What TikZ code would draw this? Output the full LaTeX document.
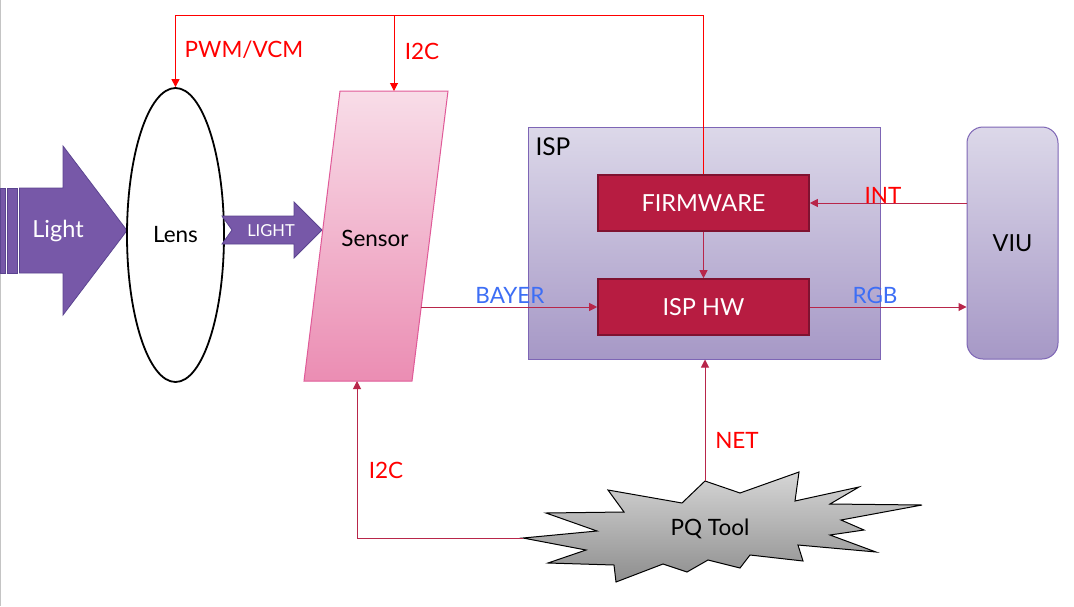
\documentclass[tikz,border=0pt]{standalone}
\usepackage{fontspec}
\setmainfont{Lato}
\usetikzlibrary{arrows.meta,shapes.geometric}
\definecolor{purplefill}{HTML}{7758A8}
\definecolor{purpledraw}{HTML}{5B4490}
\definecolor{crimson}{HTML}{B71C41}
\definecolor{crimsondraw}{HTML}{7F1230}
\definecolor{lavtop}{HTML}{DCD8E9}
\definecolor{lavbot}{HTML}{A698C6}
\definecolor{lavdraw}{HTML}{7D65B5}
\definecolor{pinktop}{HTML}{F8DDE8}
\definecolor{pinkbot}{HTML}{EB8DB3}
\definecolor{pinkdraw}{HTML}{E05A98}
\definecolor{greytop}{HTML}{D6D6D6}
\definecolor{greybot}{HTML}{8E8E8E}
\definecolor{connc}{HTML}{B8264A}
\definecolor{labelred}{HTML}{FF0000}
\definecolor{labelblue}{HTML}{3D6EF5}
\definecolor{edgegrey}{HTML}{C4C4C4}
\tikzset{
  arrowtip/.style={-{Triangle[length=8pt,width=8pt]}},
  conn/.style={draw=connc, line width=1pt, arrowtip},
  redconn/.style={draw=labelred, line width=1pt},
  purplearrow/.style={fill=purplefill, draw=purpledraw, line width=0.8pt},
  bigtext/.style={font=\fontsize{23.5}{28}\selectfont},
  midtext/.style={font=\fontsize{22.5}{27}\selectfont},
  redlabel/.style={text=labelred, font=\fontsize{22.5}{27}\selectfont},
  bluelabel/.style={text=labelblue, font=\fontsize{22.5}{27}\selectfont},
  crimsonbox/.style={draw=crimsondraw, line width=1.6pt, fill=crimson, text=white,
    minimum width=211pt, minimum height=56pt, inner sep=0pt, bigtext},
  lavbox/.style={draw=lavdraw, line width=1pt, top color=lavtop, bottom color=lavbot,
    inner sep=0pt},
  lensshape/.style={ellipse, draw=black, line width=1.8pt, fill=white,
    minimum width=97pt, minimum height=294pt, inner sep=0pt, midtext},
}
\begin{document}
\begin{tikzpicture}[x=1pt,y=-1pt]
\useasboundingbox (0,0) rectangle (1074,606);
\fill[white] (0,0) rectangle (1074,606);
\draw[edgegrey, line width=1.2pt] (0.6,0) -- (0.6,606);

% Light arrow
\filldraw[purplearrow] (0,188) rectangle (5,273);
\filldraw[purplearrow] (7.5,188) rectangle (17,273);
\filldraw[purplearrow] (19.5,188) -- (63,188) -- (63,146) -- (127,230.5) -- (63,315) -- (63,273) -- (19.5,273) -- cycle;
\node[bigtext, text=white] (light) at (58,231) {Light};

% Lens
\node[lensshape] (lens) at (175.5,235) {Lens};

% small LIGHT arrow
\filldraw[purplearrow] (222,216) -- (294,216) -- (294,202) -- (322,230) -- (294,258) -- (294,244) -- (222,244) -- (232,230) -- cycle;
\node[text=white, font=\fontsize{16.5}{20}\selectfont] (lightsmall) at (271,231) {LIGHT};

% Sensor
\path[draw=pinkdraw, line width=1pt, top color=pinktop, bottom color=pinkbot]
  (340,91) -- (448,91) -- (412,381) -- (304,381) -- cycle;
\node[midtext] (sensor) at (375,238) {Sensor};
\coordinate (sensortop) at (394,91);
\coordinate (sensorbot) at (357,381);
\coordinate (sensorright) at (421.2,307);

% ISP
\node[lavbox, minimum width=352pt, minimum height=232pt] (isp) at (704,243) {};
\node[font=\fontsize{24.5}{29}\selectfont] (isplabel) at (553,147) {ISP};
\node[crimsonbox] (fw) at (703.5,203) {FIRMWARE};
\node[crimsonbox] (hw) at (703.5,307) {ISP HW};

% VIU
\node[lavbox, rounded corners=16pt, minimum width=91pt, minimum height=232pt, bigtext] (viu) at (1012.5,243) {VIU};

% PQ Tool
\path[draw=black, line width=1pt, top color=greytop, bottom color=greybot]
  (705,481) -- (740,493) -- (799,472) -- (795,501) -- (859,487) -- (830,504) -- (922,505)
  -- (841,520) -- (864,530) -- (830,535) -- (876,552) -- (798,545) -- (803,561) -- (750,555)
  -- (740,568) -- (708,560) -- (687,572) -- (663,564) -- (616,582) -- (614,565) -- (548,563)
  -- (586,550) -- (523,538) -- (597,531) -- (546,513) -- (624,512) -- (608,490) -- (682,503) -- cycle;
\node[midtext] (pq) at (710,529) {PQ Tool};
\coordinate (pqtop) at (705,481);
\coordinate (pqleft) at (523,538);

% top red control lines
\coordinate (topright) at (703.5,15);
\coordinate (topleft) at (175.5,15);
\coordinate (branch) at (394,15);
\draw[redconn] (fw.north) -- (topright) -- (topleft);
\draw[redconn, arrowtip] (topleft) -- (lens.north);
\draw[redconn, arrowtip] (branch) -- (sensortop);
\node[redlabel] (pwm) at (244,50) {PWM/VCM};
\node[redlabel] (i2ctop) at (422,51) {I2C};

% data connectors
\draw[conn] (fw.south) -- (hw.north);
\draw[conn] (viu.west |- fw.east) -- (fw.east);
\node[redlabel] (int) at (883,195) {INT};
\draw[conn] (sensorright) -- (hw.west);
\node[bluelabel] (bayer) at (510,295) {BAYER};
\draw[conn] (hw.east) -- (hw.east -| viu.west);
\node[bluelabel] (rgb) at (875,295) {RGB};
\draw[conn] (pqtop) -- (pqtop |- isp.south);
\node[redlabel] (net) at (737,440) {NET};
\draw[conn] (pqleft) -| (sensorbot);
\node[redlabel] (i2cbot) at (386,470) {I2C};
\end{tikzpicture}
\end{document}
